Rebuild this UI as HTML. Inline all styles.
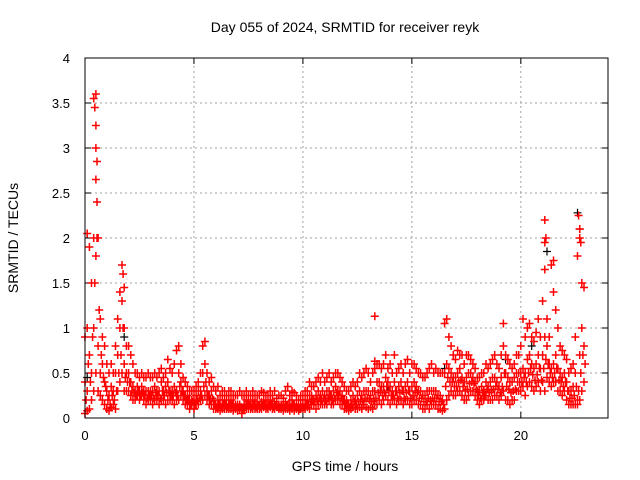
<!DOCTYPE html>
<html><head><meta charset="utf-8"><style>
body{margin:0;background:#fff}
svg{display:block;font-family:"Liberation Sans",sans-serif}
</style></head><body>
<svg id="chart" width="640" height="480" viewBox="0 0 640 480">
<rect width="640" height="480" fill="#fff"/>
<text x="345" y="32" font-size="14" text-anchor="middle">Day 055 of 2024, SRMTID for receiver reyk</text>
<text x="18" y="238" font-size="14" text-anchor="middle" transform="rotate(-90 18 238)">SRMTID / TECUs</text>
<text x="345" y="471" font-size="14" text-anchor="middle">GPS time / hours</text>
<g id="grid"></g><g id="ticks"></g><g id="marks"></g>
<rect x="85" y="58" width="523" height="360" fill="none" stroke="#000" stroke-width="1"/>
</svg>
<script>
const xTicks=[0,5,10,15,20];
const yTicks=[0,0.5,1,1.5,2,2.5,3,3.5,4];
const yTickLabels=["0","0.5","1","1.5","2","2.5","3","3.5","4"];
const lo=[0.05,0.08,0.1,0.2,0.3,0.5,0.3,0.25,0.2,0.15,
0.1,0.08,0.12,0.15,0.1,0.3,0.4,0.5,0.3,0.3,
0.3,0.25,0.2,0.2,0.25,0.2,0.25,0.2,0.15,0.2,
0.2,0.15,0.2,0.2,0.15,0.2,0.2,0.15,0.2,0.2,
0.2,0.15,0.2,0.2,0.25,0.2,0.15,0.15,0.1,0.15,
0.1,0.15,0.15,0.2,0.2,0.25,0.2,0.15,0.15,0.1,
0.1,0.1,0.08,0.1,0.1,0.1,0.1,0.1,0.08,0.1,
0.08,0.1,0.05,0.1,0.1,0.1,0.1,0.1,0.1,0.1,
0.1,0.1,0.12,0.1,0.1,0.12,0.1,0.1,0.12,0.1,
0.1,0.08,0.1,0.1,0.08,0.1,0.08,0.1,0.08,0.1,
0.1,0.1,0.12,0.1,0.15,0.15,0.1,0.15,0.15,0.15,
0.15,0.15,0.2,0.15,0.15,0.2,0.2,0.15,0.15,0.1,
0.1,0.08,0.1,0.12,0.1,0.1,0.12,0.1,0.15,0.12,
0.1,0.12,0.1,0.15,0.15,0.2,0.15,0.2,0.25,0.2,
0.15,0.2,0.2,0.15,0.2,0.2,0.15,0.2,0.2,0.15,
0.15,0.2,0.2,0.15,0.15,0.1,0.1,0.15,0.1,0.15,
0.15,0.15,0.1,0.1,0.08,0.1,0.2,0.25,0.3,0.25,
0.25,0.3,0.3,0.25,0.2,0.2,0.25,0.3,0.3,0.25,
0.2,0.15,0.2,0.2,0.25,0.2,0.2,0.2,0.25,0.25,
0.2,0.25,0.3,0.2,0.2,0.15,0.2,0.2,0.3,0.3,
0.3,0.35,0.25,0.35,0.4,0.35,0.3,0.35,0.4,0.3,
0.4,0.3,0.45,0.4,0.35,0.4,0.4,0.3,0.3,0.25,
0.3,0.2,0.15,0.15,0.15,0.15,0.15,0.2,0.3,0.4];
const mid=[0.4,0.3,0.7,0.5,1.0,1.8,0.8,0.5,0.6,0.4,
0.3,0.25,0.35,0.3,0.5,0.7,1.0,1.3,0.6,0.5,
0.5,0.4,0.35,0.3,0.35,0.3,0.35,0.3,0.3,0.3,
0.3,0.3,0.35,0.3,0.3,0.4,0.3,0.35,0.4,0.3,
0.3,0.35,0.3,0.5,0.4,0.3,0.25,0.25,0.2,0.2,
0.2,0.25,0.3,0.3,0.5,0.6,0.3,0.25,0.3,0.2,
0.15,0.2,0.15,0.2,0.2,0.15,0.2,0.2,0.15,0.15,
0.15,0.15,0.12,0.15,0.2,0.18,0.15,0.2,0.15,0.18,
0.15,0.18,0.2,0.15,0.18,0.2,0.15,0.18,0.15,0.15,
0.15,0.15,0.18,0.15,0.15,0.2,0.15,0.15,0.12,0.15,
0.15,0.2,0.2,0.25,0.25,0.2,0.25,0.3,0.25,0.3,
0.25,0.3,0.3,0.25,0.3,0.35,0.3,0.3,0.25,0.2,
0.2,0.15,0.2,0.25,0.2,0.25,0.3,0.25,0.3,0.3,
0.3,0.25,0.3,0.3,0.4,0.4,0.35,0.35,0.45,0.4,
0.35,0.3,0.4,0.3,0.35,0.4,0.3,0.35,0.4,0.3,
0.35,0.4,0.35,0.3,0.3,0.25,0.25,0.3,0.3,0.3,
0.3,0.3,0.25,0.25,0.2,0.5,0.6,0.55,0.5,0.45,
0.45,0.5,0.55,0.45,0.4,0.45,0.5,0.5,0.45,0.4,
0.3,0.3,0.35,0.3,0.4,0.35,0.4,0.45,0.45,0.4,
0.35,0.45,0.8,0.5,0.45,0.4,0.4,0.45,0.5,0.5,
0.5,0.55,0.5,0.65,0.7,0.6,0.55,0.6,0.7,0.55,
0.7,0.9,0.8,0.6,0.55,0.6,0.7,0.55,0.5,0.45,
0.5,0.4,0.3,0.3,0.35,0.5,0.2,0.7,1.0,0.8];
const hi=[0.9,1.0,1.9,1.5,2.0,3.6,2.0,1.1,0.9,0.8,
0.6,0.5,0.6,0.5,0.8,1.1,1.4,1.7,1.0,0.8,
0.8,0.7,0.6,0.5,0.5,0.45,0.5,0.45,0.45,0.5,
0.45,0.45,0.5,0.45,0.5,0.55,0.45,0.5,0.65,0.55,
0.5,0.6,0.75,0.8,0.6,0.45,0.4,0.35,0.3,0.3,
0.3,0.35,0.4,0.5,0.8,0.85,0.5,0.4,0.45,0.35,
0.3,0.35,0.25,0.3,0.3,0.25,0.3,0.3,0.25,0.25,
0.25,0.3,0.25,0.25,0.3,0.25,0.25,0.3,0.25,0.25,
0.25,0.3,0.28,0.25,0.25,0.3,0.25,0.3,0.22,0.25,
0.25,0.22,0.3,0.35,0.25,0.3,0.28,0.25,0.2,0.25,
0.25,0.3,0.3,0.4,0.35,0.35,0.4,0.45,0.4,0.5,
0.4,0.45,0.5,0.4,0.45,0.5,0.5,0.45,0.4,0.35,
0.3,0.3,0.35,0.4,0.35,0.4,0.5,0.45,0.5,0.55,
0.5,0.4,0.5,0.55,0.6,0.6,0.55,0.6,0.7,0.55,
0.6,0.5,0.7,0.5,0.55,0.6,0.5,0.6,0.65,0.5,
0.6,0.6,0.55,0.5,0.5,0.45,0.45,0.5,0.55,0.6,
0.5,0.55,0.5,0.5,0.5,1.05,1.1,0.9,0.8,0.7,
0.65,0.75,0.7,0.7,0.6,0.7,0.7,0.65,0.6,0.55,
0.45,0.45,0.5,0.5,0.6,0.55,0.6,0.65,0.7,0.6,
0.55,0.7,1.05,0.7,0.65,0.6,0.55,0.6,0.7,0.7,
0.8,1.1,0.9,1.0,1.05,0.9,0.85,0.95,1.1,0.9,
1.3,2.2,1.1,0.9,1.7,1.4,1.2,1.0,0.8,0.75,
0.7,0.65,0.5,0.55,0.6,0.9,1.8,2.0,1.5,1.45];
const off=[0.2,0.6,0.4,0.9,1.5,2.0,1.2,0.7,0.45,0.35,
0.2,0.15,0.25,0.2,0.3,0.5,0.7,1.0,0.45,0.4,
0.4,0.3,0.28,0.25,0.3,0.25,0.28,0.25,0.22,0.25,
0.25,0.22,0.28,0.25,0.22,0.3,0.25,0.28,0.3,0.25,
0.25,0.28,0.25,0.35,0.3,0.25,0.2,0.2,0.15,0.18,
0.15,0.2,0.22,0.25,0.35,0.4,0.25,0.2,0.22,0.15,
0.12,0.15,0.12,0.15,0.15,0.12,0.15,0.15,0.12,0.12,
0.12,0.12,0.1,0.12,0.15,0.14,0.12,0.15,0.12,0.14,
0.12,0.14,0.15,0.12,0.14,0.15,0.12,0.14,0.12,0.12,
0.12,0.12,0.14,0.12,0.12,0.15,0.12,0.12,0.1,0.12,
0.12,0.15,0.15,0.18,0.2,0.18,0.2,0.22,0.2,0.22,
0.2,0.22,0.25,0.2,0.22,0.28,0.25,0.22,0.2,0.15,
0.15,0.12,0.15,0.18,0.15,0.18,0.2,0.18,0.22,0.22,
0.2,0.18,0.2,0.22,0.28,0.3,0.25,0.28,0.35,0.3,
0.25,0.25,0.3,0.22,0.28,0.3,0.22,0.28,0.3,0.22,
0.25,0.3,0.28,0.22,0.22,0.18,0.18,0.22,0.2,0.22,
0.22,0.22,0.18,0.18,0.15,0.35,0.45,0.4,0.4,0.35,
0.35,0.4,0.42,0.35,0.3,0.32,0.38,0.4,0.38,0.32,
0.25,0.22,0.28,0.25,0.32,0.28,0.3,0.32,0.35,0.32,
0.28,0.35,0.5,0.35,0.32,0.28,0.3,0.32,0.4,0.4,
0.4,0.45,0.4,0.5,0.55,0.48,0.42,0.48,0.55,0.42,
0.55,0.65,0.6,0.5,0.45,0.5,0.55,0.42,0.4,0.35,
0.4,0.3,0.22,0.22,0.25,0.35,0.3,0.5,0.7,0.6];
const spikeTimes=[0.4,0.45,0.5,0.5,0.55,0.5,0.55,0.1,1.75,1.8,21.1,21.15,21.1,21.5,22.65,22.7,22.75,13.3,13.3];
const spikeValues=[3.55,3.45,3.25,3.0,2.85,2.65,2.4,2.05,1.6,1.45,1.95,2.0,1.65,1.75,2.25,2.1,1.95,1.13,0.63];
const blackTimes=[0.1,1.8,13.9,16.5,19.3,20.5,21.2,22.6,22.7,9.9,5.0];
const blackValues=[0.45,0.9,0.35,0.55,0.65,0.8,1.85,2.28,2.1,0.2,0.1];
const step=0.1;

const X0=85,X1=608,Y0=418,Y1=58,XMAX=24,YMAX=4;
const xs=t=>X0+(X1-X0)*t/XMAX;
const ys=v=>Y0-(Y0-Y1)*v/YMAX;
const NS="http://www.w3.org/2000/svg";
const grid=document.getElementById('grid'),ticks=document.getElementById('ticks'),marks=document.getElementById('marks');
function mk(tag,attrs,parent){const e=document.createElementNS(NS,tag);for(const k in attrs)e.setAttribute(k,attrs[k]);parent.appendChild(e);return e;}
xTicks.forEach(t=>{
  const x=xs(t);
  if(t>0){const g=mk('line',{x1:x,x2:x,y1:Y0,y2:Y1,stroke:'#a0a0a0','stroke-dasharray':'2,3'},grid);
  
  }
  mk('line',{x1:x,x2:x,y1:Y0,y2:Y0-6,stroke:'#000'},ticks);
  mk('line',{x1:x,x2:x,y1:Y1,y2:Y1+6,stroke:'#000'},ticks);
  const l=mk('text',{x:x,y:Y0+22,'font-size':13,'text-anchor':'middle'},ticks);l.textContent=t;
  
  
});
yTicks.forEach((v,i)=>{
  const y=ys(v);
  if(v>0&&v<YMAX){const g=mk('line',{x1:X0,x2:X1,y1:y,y2:y,stroke:'#a0a0a0','stroke-dasharray':'2,3'},grid);
  
  }
  mk('line',{x1:X0,x2:X0+6,y1:y,y2:y,stroke:'#000'},ticks);
  mk('line',{x1:X1,x2:X1-6,y1:y,y2:y,stroke:'#000'},ticks);
  const l=mk('text',{x:X0-15,y:y+5,'font-size':13,'text-anchor':'end'},ticks);l.textContent=yTickLabels[i];
  
  
});
function cross(t,v){const x=xs(t),y=ys(v);return `M${(x-4).toFixed(1)},${y.toFixed(1)}h8M${x.toFixed(1)},${(y-4).toFixed(1)}v8`;}
let bd='';blackTimes.forEach((t,i)=>bd+=cross(t,blackValues[i]));
const bp=mk('path',{d:bd,stroke:'#000','stroke-width':1.2,fill:'none'},marks);


let rd='';
[lo,mid,hi].forEach(arr=>arr.forEach((v,i)=>rd+=cross(i*step,v)));
off.forEach((v,i)=>rd+=cross(i*step+step/2,v));
spikeTimes.forEach((t,i)=>rd+=cross(t,spikeValues[i]));
const rp=mk('path',{d:rd,stroke:'#ff0000','stroke-width':1.5,fill:'none'},marks);


</script>
</body></html>
